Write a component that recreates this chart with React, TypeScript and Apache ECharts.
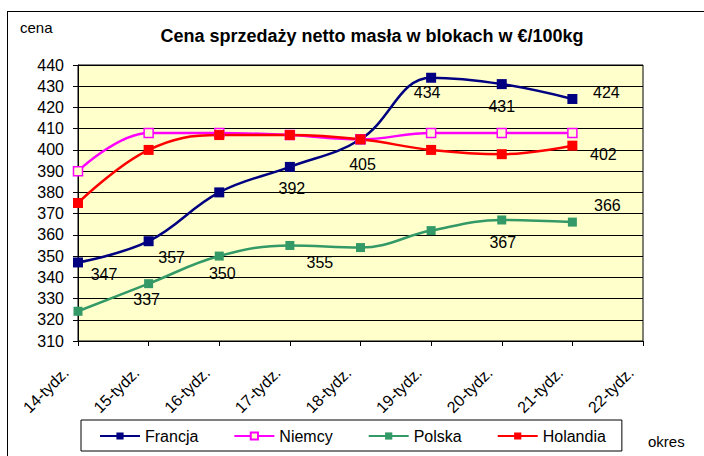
import React, { useEffect, useRef } from "react";
import * as echarts from "echarts";

const categories = ["14-tydz.", "15-tydz.", "16-tydz.", "17-tydz.", "18-tydz.", "19-tydz.", "20-tydz.", "21-tydz.", "22-tydz."];
const francja = [347, 357, 380, 392, 405, 434, 431, 424];
const niemcy = [390, 408, 408, 407, 405, 408, 408, 408];
const polska = [324, 337, 350, 355, 354, 362, 367, 366];
const holandia = [375, 400, 407, 407, 405, 400, 398, 402];

const titleText = "Cena sprzedaży netto masła w blokach w €/100kg";
const yName = "cena";
const xName = "okres";

// label offsets (style only): index -> [dx, dy]
const francjaLabels: Record<number, [number, number]> = {
  0: [26, 12], 1: [23, 16], 3: [2, 22], 4: [2, 25], 5: [-4, 15], 6: [0, 22], 7: [34, -6],
};
const polskaLabels: Record<number, [number, number]> = {
  1: [-2, 16], 2: [3, 17], 3: [30, 17], 6: [1, 23], 7: [35, -17],
};
const holandiaLabels: Record<number, [number, number]> = { 7: [31, 9] };

const FONT = "'Liberation Sans', Arial, sans-serif";

function withLabels(values: number[], labels: Record<number, [number, number]>) {
  return values.map((v, i) =>
    labels[i]
      ? {
          value: v,
          label: {
            show: true,
            position: "inside",
            offset: labels[i],
            color: "#000",
            fontSize: 16,
            fontFamily: FONT,
          },
        }
      : v
  );
}

export default function App() {
  const ref = useRef<HTMLDivElement>(null);
  useEffect(() => {
    const chart = echarts.init(ref.current!, null, { renderer: "svg" });
    const lineBase = (name: string, color: string, data: any[], symbol: string, size: number, fill?: string) => ({
      name,
      type: "line",
      data,
      smooth: 0.4,
      symbol,
      symbolSize: size,
      lineStyle: { color, width: 2.5 },
      itemStyle: { color: fill ?? color, borderColor: color, borderWidth: fill ? 1.5 : 0 },
      emphasis: { disabled: true },
    });
    chart.setOption({
      animation: false,
      textStyle: { fontFamily: FONT },
      title: {
        text: titleText,
        left: 367,
        top: 22,
        textAlign: "center",
        textStyle: { fontSize: 18, fontWeight: "bold", color: "#000", fontFamily: FONT },
      },
      legend: {
        left: 81,
        top: 420,
        itemWidth: 40,
        itemHeight: 9,
        itemGap: 35,
        padding: [8, 16, 7, 18],
        borderColor: "#000",
        borderWidth: 1,
        textStyle: { fontSize: 16, color: "#000", fontFamily: FONT },
        data: ["Francja", "Niemcy", "Polska", "Holandia"],
      },
      grid: {
        left: 78,
        right: 61,
        top: 65,
        bottom: 115,
        show: true,
        backgroundColor: "#FFFFCC",
        borderColor: "#000",
        borderWidth: 1,
      },
      xAxis: {
        type: "category",
        data: categories,
        boundaryGap: false,
        axisLine: { lineStyle: { color: "#000", width: 1 } },
        axisTick: { show: true, length: 5, lineStyle: { color: "#000" } },
        axisLabel: {
          rotate: 45,
          margin: 17,
          padding: [0, 17, 0, 0],
          fontSize: 16,
          color: "#000",
          fontFamily: FONT,
          interval: 0,
        },
        splitLine: { show: false },
      },
      yAxis: {
        type: "value",
        min: 310,
        max: 440,
        interval: 10,
        axisLine: { show: true, lineStyle: { color: "#000", width: 1 } },
        axisTick: { show: true, length: 5, lineStyle: { color: "#000" } },
        axisLabel: { margin: 14, fontSize: 16, color: "#000", fontFamily: FONT },
        splitLine: { show: true, lineStyle: { color: "#000", width: 1 } },
      },
      graphic: [
        { type: "line", shape: { x1: 7, y1: 11.5, x2: 704, y2: 11.5 }, style: { stroke: "#000", lineWidth: 1 } },
        { type: "line", shape: { x1: 7.5, y1: 11, x2: 7.5, y2: 456 }, style: { stroke: "#000", lineWidth: 1 } },
        { type: "text", left: 20, top: 20, style: { text: yName, fontSize: 15, fill: "#000", fontFamily: FONT } },
        { type: "text", left: 648, top: 434, style: { text: xName, fontSize: 15, fill: "#000", fontFamily: FONT } },
      ],
      series: [
        lineBase("Francja", "#000080", withLabels(francja, francjaLabels), "rect", 10),
        lineBase("Niemcy", "#FF00FF", niemcy, "rect", 9, "#FFFFCC"),
        lineBase("Polska", "#339966", withLabels(polska, polskaLabels), "rect", 9),
        lineBase("Holandia", "#FF0000", withLabels(holandia, holandiaLabels), "rect", 10),
      ],
    });
    return () => chart.dispose();
  }, []);
  return <div ref={ref} style={{ position: "fixed", left: 0, top: 0, width: 704, height: 456, background: "#fff" }} />;
}
